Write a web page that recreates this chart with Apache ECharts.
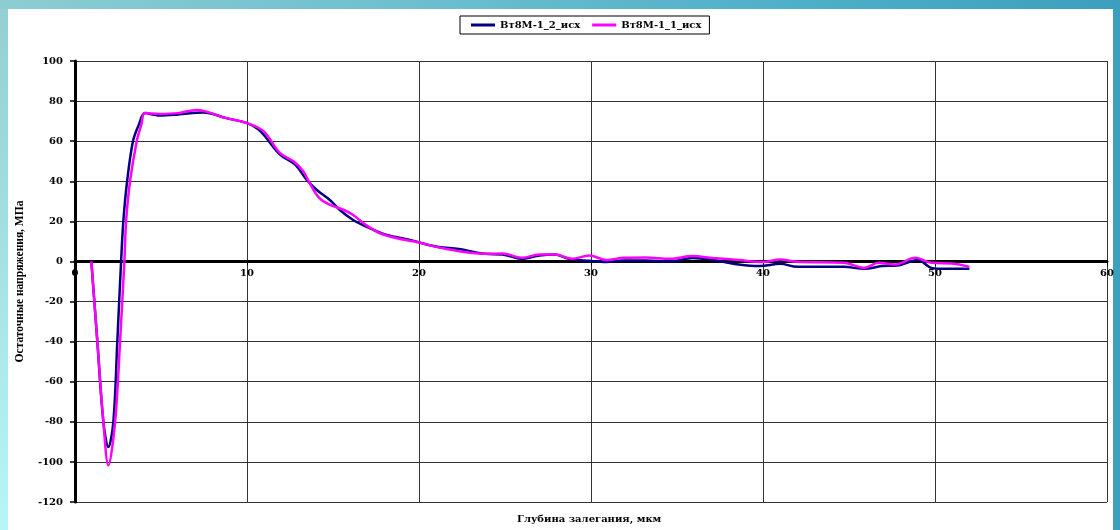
<!DOCTYPE html>
<html>
<head>
<meta charset="utf-8">
<script src="https://cdn.jsdelivr.net/npm/echarts@6/dist/echarts.min.js"></script>
<style>
  html, body { margin: 0; padding: 0; }
  body {
    width: 1120px; height: 530px; overflow: hidden; position: relative;
    background: linear-gradient(90deg, #8ccdd2 0%, #6fc0cf 35%, #4fb0c9 70%, #3d9fbe 100%);
  }
  #side {
    position: absolute; left: 0; top: 9px; width: 8px; bottom: 0;
    background: linear-gradient(180deg, #93cfd3 0%, #a8e6ea 60%, #b6f6f8 100%);
  }
  #sheet {
    position: absolute; left: 8px; top: 9px; right: 7px; bottom: 0; background: #ffffff;
  }
  #chart { position: absolute; left: 0; top: 0; width: 1120px; height: 530px; }
</style>
</head>
<body>
<div id="side"></div>
<div id="sheet"></div>
<div id="chart"></div>
<script>
// Residual stress profiles vs. depth for two samples
const seriesNames = ['Вт8М-1_2_исх', 'Вт8М-1_1_исх'];

const depth2 = [0.95, 1.3, 1.65, 1.94, 2.23, 2.46, 2.68, 2.81, 3.03, 3.37, 3.7, 4.07, 4.6, 4.94, 6.0, 7.45, 8.8,
  10, 10.77, 11.92, 12.8, 13.46, 14.04, 14.8, 15.38, 16.15, 16.9, 18.08, 19.6, 20, 21.15, 22.3, 23.85,
  24.85, 26, 27, 27.9, 28.7, 29.9, 30.9, 31.9, 33.2, 34.6, 35.9, 37.1, 38.6, 39.8, 41, 42, 44.7, 45.9,
  46.9, 47.8, 49, 49.8, 50.6, 52];
const stress2 = [0, -40, -80, -92.6, -80, -40, 0, 20, 40, 60, 68, 74, 73.2, 72.8, 73.3, 74.3, 71.5,
  69, 65, 53.3, 48.3, 40.8, 35.8, 30.8, 25.8, 20.8, 17.5, 13.3, 10.5, 9.5, 7.2, 6.2, 3.8,
  3.5, 1.3, 3, 3.5, 1.3, 0.3, -0.3, 0.5, 0.5, 0, 1.7, 0.7, -1.5, -2.3, -1.2, -2.7, -2.7, -3.7,
  -2.3, -2, 0.7, -3.2, -3.7, -3.7];

const depth1 = [0.95, 1.3, 1.65, 1.94, 2.33, 2.62, 2.87, 2.97, 3.2, 3.59, 3.85, 4.07, 4.94, 6.0, 7.07, 8.8,
  10, 10.96, 11.92, 12.7, 13.27, 13.65, 14.2, 14.8, 15.6, 16.15, 16.9, 17.7, 18.65, 20, 21.15, 23.85,
  24.85, 26, 27, 27.9, 28.9, 29.9, 30.9, 31.9, 33.2, 34.6, 35.9, 37.1, 38.6, 40, 41, 42, 44.7, 45.9,
  46.7, 47.7, 48.85, 49.8, 51, 52];
const stress1 = [0, -40, -80, -101.7, -80, -40, 0, 20, 40, 60, 68, 74, 73.6, 74, 75.6, 71.5,
  69, 65, 54, 50, 45, 39, 31.7, 28.3, 25.8, 23.3, 18.3, 14.2, 11.7, 9.5, 7, 3.8,
  4, 1.8, 3.5, 3.5, 1.3, 3, 0.7, 1.8, 2, 1.3, 2.7, 1.7, 0.7, -0.3, 1, -0.2, -0.7, -3.2,
  -0.7, -1.5, 1.8, -0.7, -1, -2.7];

const xTicks = { min: 0, max: 60, step: 10 };
const yTicks = { min: -120, max: 100, step: 20 };

const pairs = (xs, ys) => xs.map((x, i) => [x, ys[i]]);

const serifWide = '"DejaVu Serif", serif';
const serif = '"Liberation Serif", "Times New Roman", serif';

// plot box
const gridTop = 61, gridBottom = 28, chartH = 530;
const plotH = chartH - gridTop - gridBottom;
// shift the depth axis up so it sits on the zero stress line
const zeroOffset = -plotH * (0 - yTicks.min) / (yTicks.max - yTicks.min);

const chart = echarts.init(document.getElementById('chart'), null, { renderer: 'canvas' });
chart.setOption({
  backgroundColor: 'transparent',
  animation: false,
  legend: {
    left: 460, top: 16,
    padding: [4, 8, 4, 11],
    borderColor: '#000', borderWidth: 1,
    itemWidth: 24, itemHeight: 3, itemGap: 12,
    icon: 'rect',
    textStyle: { fontFamily: serifWide, fontWeight: 'bold', fontSize: 10, color: '#000' },
    data: seriesNames
  },
  grid: { left: 75, right: 13, top: gridTop, bottom: gridBottom, containLabel: false },
  xAxis: {
    type: 'value',
    min: xTicks.min, max: xTicks.max, interval: xTicks.step,
    position: 'bottom',
    offset: zeroOffset,
    axisLine: { onZero: false, lineStyle: { color: '#000', width: 3 } },
    axisTick: { show: true, length: 4, lineStyle: { color: '#000', width: 1 } },
    axisLabel: { margin: 7, fontFamily: serifWide, fontWeight: 'bold', fontSize: 10, color: '#000' },
    splitLine: { show: true, lineStyle: { color: '#333', width: 1 } }
  },
  yAxis: {
    type: 'value',
    min: yTicks.min, max: yTicks.max, interval: yTicks.step,
    name: 'Остаточные напряжения, МПа',
    nameLocation: 'middle', nameGap: 49, nameRotate: 90,
    nameTextStyle: { fontFamily: serif, fontWeight: 'bold', fontSize: 11.5, color: '#000' },
    axisLine: { show: true, onZero: false, lineStyle: { color: '#000', width: 3 } },
    axisTick: { show: true, length: 5, lineStyle: { color: '#000', width: 1.5 } },
    axisLabel: { margin: 12, fontFamily: serifWide, fontWeight: 'bold', fontSize: 10, color: '#000' },
    splitLine: { show: true, lineStyle: { color: '#333', width: 1 } }
  },
  graphic: [{
    type: 'text',
    left: 517, top: 514,
    style: {
      text: 'Глубина залегания, мкм',
      font: 'bold 10px ' + serifWide,
      fill: '#000'
    }
  }],
  series: [
    {
      name: seriesNames[0], type: 'line', data: pairs(depth2, stress2),
      smooth: 0.35, showSymbol: false, symbol: 'none',
      lineStyle: { color: '#000080', width: 2.5 }, itemStyle: { color: '#000080' }, z: 3
    },
    {
      name: seriesNames[1], type: 'line', data: pairs(depth1, stress1),
      smooth: 0.35, showSymbol: false, symbol: 'none',
      lineStyle: { color: '#ff00ff', width: 2.5 }, itemStyle: { color: '#ff00ff' }, z: 4
    }
  ]
});
</script>
</body>
</html>
